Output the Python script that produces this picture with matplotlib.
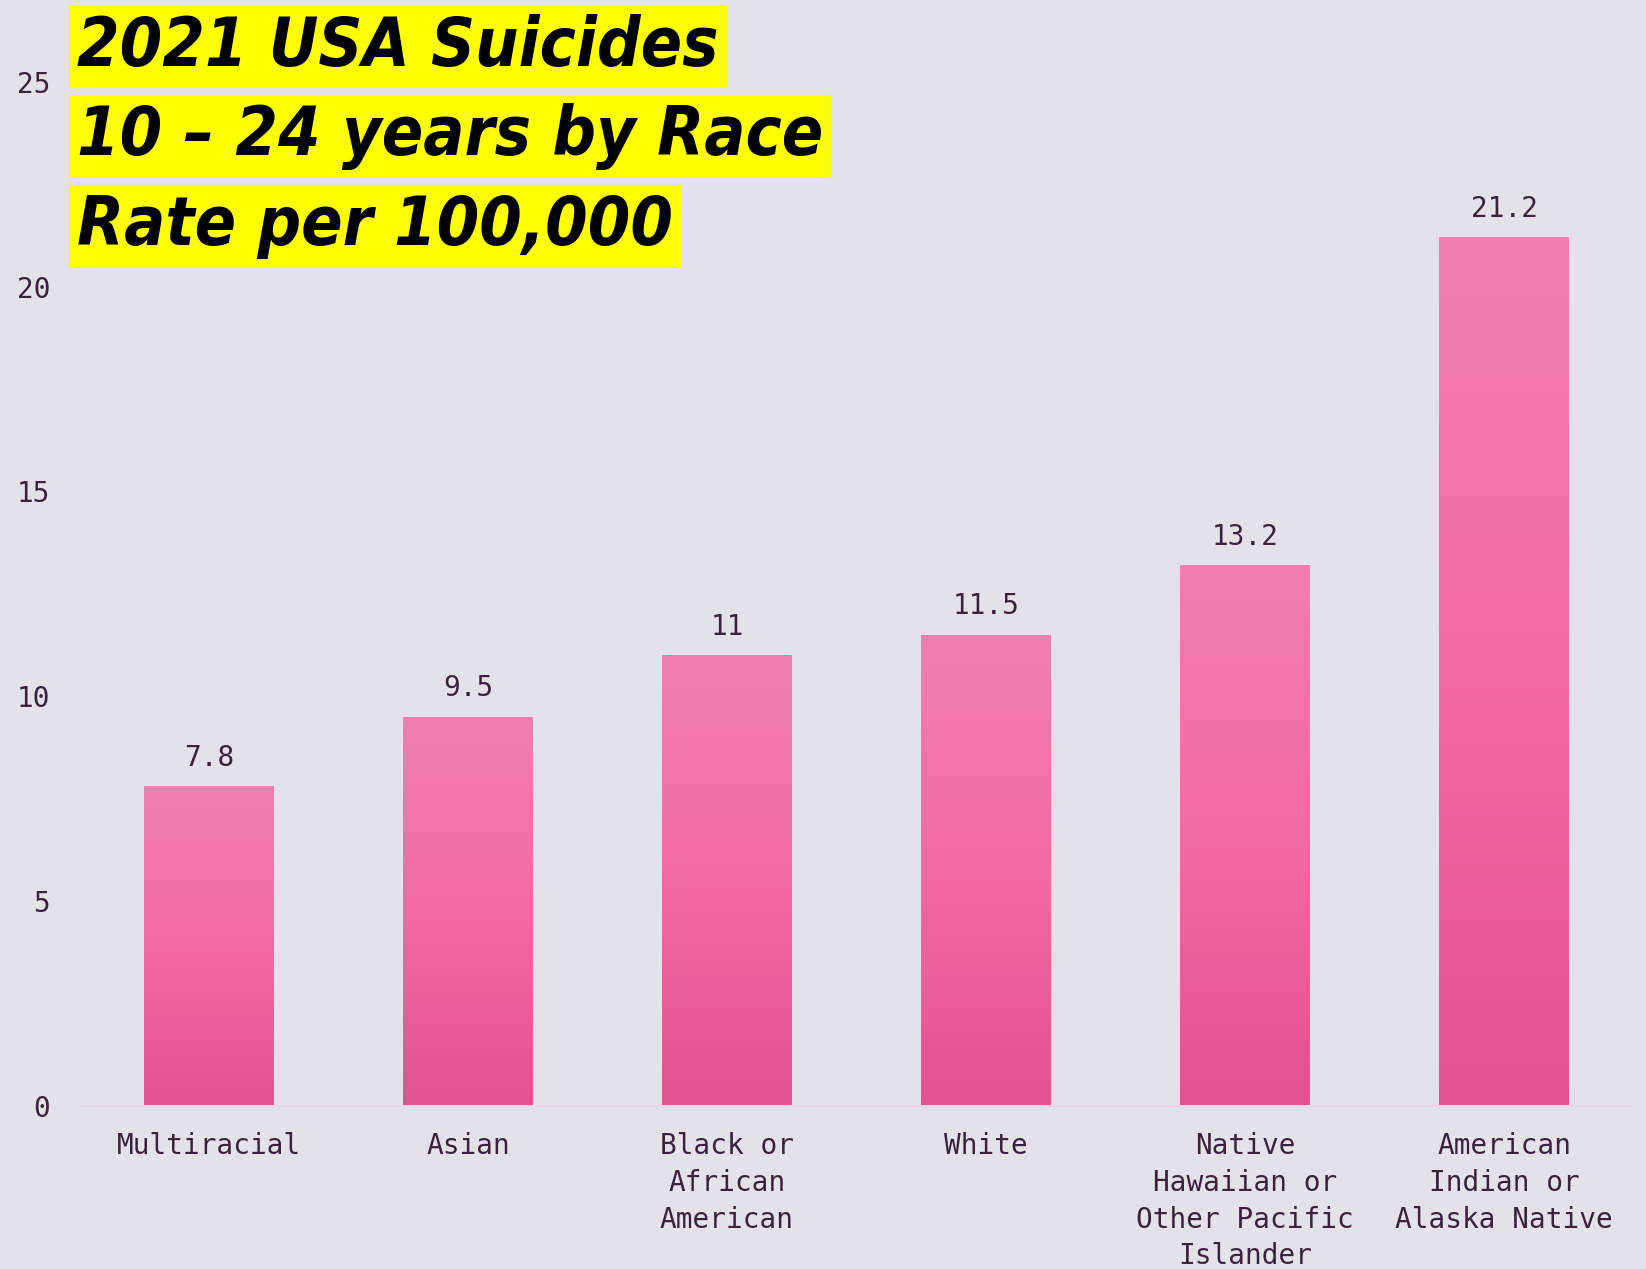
import matplotlib
matplotlib.use('Agg')
import matplotlib.pyplot as plt
import numpy as np
from matplotlib.colors import LinearSegmentedColormap

races = ['Multiracial', 'Asian', 'Black or\nAfrican\nAmerican', 'White',
         'Native\nHawaiian or\nOther Pacific\nIslander', 'American\nIndian or\nAlaska Native']
rates = [7.8, 9.5, 11, 11.5, 13.2, 21.2]
rate_labels = ['7.8', '9.5', '11', '11.5', '13.2', '21.2']
title_lines = ['2021 USA Suicides', '10 \u2013 24 years by Race', 'Rate per 100,000']

bg = '#e3e2e8'
txt = '#3b2340'
grad = LinearSegmentedColormap.from_list('pinkgrad', ['#e15290', '#f46aa2', '#f080ae'])

fig = plt.figure(figsize=(16.46, 12.69), dpi=100, facecolor=bg)
ax = fig.add_axes([82 / 1646, 1 - 1105.6 / 1269, (1631 - 82) / 1646, 1105.6 / 1269])
ax.set_facecolor(bg)

x = np.arange(len(races))
bars = ax.bar(x, rates, width=0.5, color='none', edgecolor='none')
g = np.linspace(0, 1, 256).reshape(-1, 1)
for b in bars:
    x0, y0 = b.get_x(), b.get_y()
    w, h = b.get_width(), b.get_height()
    im = ax.imshow(g, cmap=grad, origin='lower', aspect='auto',
                   extent=[x0, x0 + w, y0, y0 + h], zorder=2)
    im.set_clip_path(b)

for xi, v, lab in zip(x, rates, rate_labels):
    ax.annotate(lab, (xi, v), xytext=(0, 20.5), textcoords='offset points',
                ha='center', va='center', fontsize=20, color=txt, family='DejaVu Sans Mono')

ax.set_xlim(-0.49, 5.49)
ax.set_ylim(0, 27)
ax.set_yticks([0, 5, 10, 15, 20, 25])
ax.set_xticks(x)
ax.set_xticklabels(races, fontsize=20, color=txt, family='DejaVu Sans Mono', linespacing=1.4)
for t in ax.get_yticklabels():
    t.set_fontsize(20)
    t.set_color(txt)
    t.set_family('DejaVu Sans Mono')
ax.tick_params(axis='both', length=0)
ax.tick_params(axis='y', pad=23)
ax.tick_params(axis='x', pad=19)
for s in ['top', 'right', 'left']:
    ax.spines[s].set_visible(False)
ax.spines['bottom'].set_color('#f2d3e4')
ax.spines['bottom'].set_linewidth(1.5)

ys = [47, 136.5, 226]
for line, yy in zip(title_lines, ys):
    fig.text(77 / 1646, 1 - yy / 1269, line, ha='left', va='center',
             fontsize=49, fontweight='heavy', style='italic', family='DejaVu Sans',
             fontstretch='condensed', color='black',
             bbox=dict(facecolor='#ffff00', edgecolor='none', pad=6))

fig.savefig('out.png', dpi=100, facecolor=bg)
